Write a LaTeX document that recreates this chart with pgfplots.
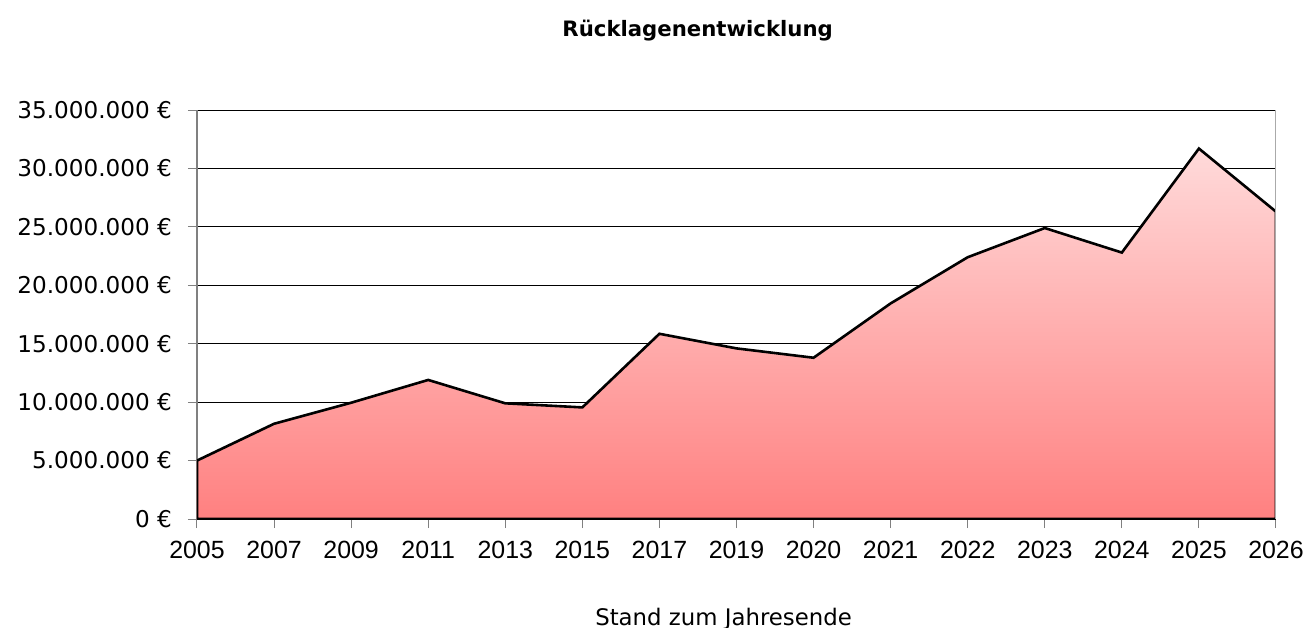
\documentclass[border=0pt]{standalone}
\usepackage{pgfplots}
\pgfplotsset{compat=1.18}
\usepackage{fontspec}
\setmainfont{DejaVu Sans}
\newfontfamily\arialfont{Liberation Sans}
\definecolor{axisgray}{RGB}{128,128,128}
\definecolor{rightgray}{RGB}{170,170,170}
\definecolor{topc}{RGB}{255,218,218}
\definecolor{botc}{RGB}{255,128,128}
\begin{document}
\begin{tikzpicture}
\useasboundingbox (-197bp,-109bp) rectangle (1114bp,519bp);
\begin{axis}[
  at={(0,0)}, anchor=south west,
  scale only axis, width=1079bp, height=409bp,
  xmin=0, xmax=14, ymin=0, ymax=35000000,
  axis lines=left, axis line style={-, axisgray, line width=1.2bp},
  xtick={0,1,2,3,4,5,6,7,8,9,10,11,12,13,14},
  xticklabels={2005,2007,2009,2011,2013,2015,2017,2019,2020,2021,2022,2023,2024,2025,2026},
  ytick={0,5000000,10000000,15000000,20000000,25000000,30000000,35000000},
  yticklabels={0 €,5.000.000 €,10.000.000 €,15.000.000 €,20.000.000 €,25.000.000 €,30.000.000 €,35.000.000 €},
  scaled y ticks=false,
  ymajorgrids, major grid style={black, line width=0.9bp},
  tick style={axisgray, line width=1bp},
  tick align=outside, major tick length=9bp,
  xticklabel style={font=\arialfont\fontsize{25}{28}\selectfont, anchor=north, inner sep=0pt, yshift=-13bp},
  yticklabel style={font=\fontsize{23.2}{27}\selectfont, anchor=east, inner sep=0pt, xshift=-16bp},
  title={Rücklagenentwicklung},
  title style={at={(axis description cs:0.464,1)}, anchor=base, yshift=68bp, inner sep=0pt, font=\bfseries\fontsize{21.3}{25}\selectfont},
  xlabel={Stand zum Jahresende},
  xlabel style={at={(axis description cs:0.488,0)}, anchor=base, yshift=-106bp, inner sep=0pt, font=\fontsize{22.9}{27}\selectfont},
]
\addplot[draw=black, line width=2.6bp, top color=topc, bottom color=botc] coordinates {
  (0,5000000) (1,8150000) (2,9950000) (3,11900000) (4,9900000) (5,9550000)
  (6,15850000) (7,14600000) (8,13800000) (9,18450000) (10,22400000)
  (11,24900000) (12,22800000) (13,31700000) (14,26300000)
} \closedcycle;
\draw[rightgray, line width=1.2bp] (rel axis cs:1,0) -- (rel axis cs:1,1);
\end{axis}
\end{tikzpicture}
\end{document}
